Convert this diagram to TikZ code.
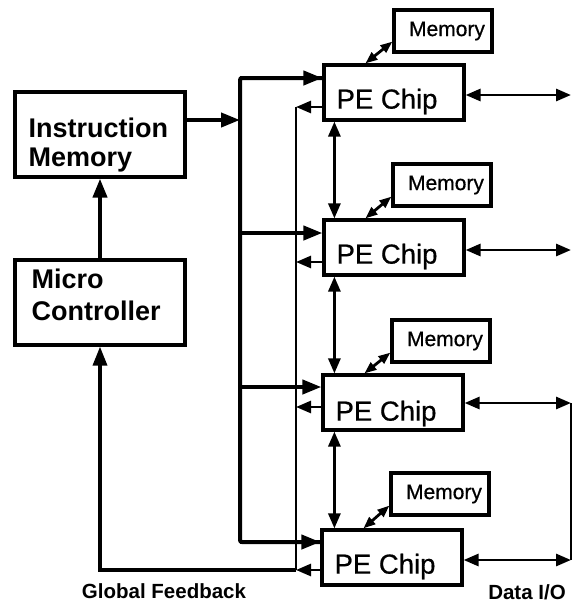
\documentclass[tikz,border=0pt]{standalone}
\usepackage{fontspec}
\setmainfont{Liberation Sans}
\newfontfamily\mediumsans[FakeBold=0.6]{Liberation Sans}
\usetikzlibrary{arrows.meta,calc}

\begin{document}
\begin{tikzpicture}[x=1pt,y=-1pt,
  box/.style={draw, line width=3.2pt, inner sep=0pt},
  ctrlbox/.style={box, minimum width=170pt, minimum height=85pt},
  pebox/.style={box, minimum width=140pt, minimum height=55pt},
  membox/.style={box, minimum width=98pt, minimum height=42pt,
    font=\mediumsans\fontsize{21}{23}\selectfont},
  ctrltext/.style={font=\fontsize{27}{30}\selectfont\bfseries, inner sep=0pt, anchor=base west},
  petext/.style={font=\mediumsans\fontsize{27.5}{30}\selectfont, inner sep=0pt, anchor=base west},
  caption/.style={font=\fontsize{20.5}{22}\selectfont\bfseries, inner sep=0pt, anchor=base},
  bigtip/.tip={Triangle[length=19pt,width=14pt]},
  smalltip/.tip={Triangle[length=15pt,width=12pt]},
  memtip/.tip={Triangle[length=12pt,width=9pt]},
  buswire/.style={line width=4pt},
  bigarrow/.style={line width=4pt, -bigtip},
  fbarrow/.style={line width=2.6pt, -smalltip},
  fbwire/.style={line width=2.6pt},
  linkarrow/.style={line width=2.9pt, smalltip-smalltip},
  memarrow/.style={line width=2.8pt, memtip-memtip},
]
\useasboundingbox (0,0) rectangle (573,603);

% control side
\node[ctrlbox] (IM) at (100,134.5) {};
\node[ctrlbox] (MC) at (100,302.5) {};
\node[ctrltext] (IMa) at ($(IM.north west)+(15,47)$) {Instruction};
\node[ctrltext] (IMb) at ($(IM.north west)+(15,76)$) {Memory};
\node[ctrltext] (MCa) at ($(MC.north west)+(18,30)$) {Micro};
\node[ctrltext] (MCb) at ($(MC.north west)+(18,62)$) {Controller};

% processing elements and their local memories
\node[pebox] (PE1) at (394,92.5) {};
\node[pebox] (PE2) at (394,247.5) {};
\node[pebox] (PE3) at (393,402.5) {};
\node[pebox] (PE4) at (392,557.5) {};
\node[petext] (PE1t) at ($(PE1.south west)+(14,-13)$) {PE Chip};
\node[petext] (PE2t) at ($(PE2.south west)+(14,-13)$) {PE Chip};
\node[petext] (PE3t) at ($(PE3.south west)+(14,-11)$) {PE Chip};
\node[petext] (PE4t) at ($(PE4.south west)+(14,-13)$) {PE Chip};

\node[membox] (M1) at (443,31) {\hspace*{8pt}Memory};
\node[membox] (M2) at (442,185) {\hspace*{8pt}Memory};
\node[membox] (M3) at (441,341) {\hspace*{8pt}Memory};
\node[membox] (M4) at (440,494) {\hspace*{8pt}Memory};

% instruction bus taps
\coordinate (b0) at (240,120);
\coordinate (b1) at (240,78);
\coordinate (b2) at (240,233);
\coordinate (b3) at (240,387);
\coordinate (b4) at (240,542);

% feedback bus taps
\coordinate (f1) at (296,107);
\coordinate (f2) at (296,262);
\coordinate (f3) at (296,407);
\coordinate (f4) at (296,570);

% data I/O rail
\coordinate (d1) at (571,95);
\coordinate (d2) at (571,250);
\coordinate (d3) at (571,403);
\coordinate (d4) at (571,560);

% controller to instruction memory, instruction memory to bus
\draw[bigarrow] (MC.north) -- (IM.south);
\draw[bigarrow] (IM.east |- b0) -- (b0);

% instruction broadcast bus
\draw[buswire, rounded corners=2pt] (b1 -| PE1.west) -- (b1) -- (b4) -- (b4 -| PE4.west);
\draw[bigarrow] (b1) -- (b1 -| PE1.west);
\draw[bigarrow] (b2) -- (b2 -| PE2.west);
\draw[bigarrow] (b3) -- (b3 -| PE3.west);
\draw[bigarrow] (b4) -- (b4 -| PE4.west);

% global feedback path
\draw[fbarrow] (f1 -| PE1.west) -- (f1);
\draw[fbarrow] (f2 -| PE2.west) -- (f2);
\draw[fbarrow] (f3 -| PE3.west) -- (f3);
\draw[fbarrow] (f4 -| PE4.west) -- (f4);
\draw[fbwire] (f1) -- (f4);
\draw[line width=3.4pt, -bigtip] (f4) -- (MC.south |- f4) -- (MC.south);

% nearest-neighbour links
\draw[linkarrow] ($(PE1.south west)+(12,0)$) -- ($(PE2.north west)+(12,0)$);
\draw[linkarrow] ($(PE2.south west)+(12,0)$) -- ($(PE3.north west)+(13,0)$);
\draw[linkarrow] ($(PE3.south west)+(13,0)$) -- ($(PE4.north west)+(14,0)$);

% local memory ports
\draw[memarrow] ($(PE1.north west)+(43,0)$) -- ($(M1.south west)+(0,-12)$);
\draw[memarrow] ($(PE2.north west)+(43,0)$) -- ($(M2.south west)+(0,-11)$);
\draw[memarrow] ($(PE3.north west)+(43,0)$) -- ($(M3.south west)+(0,-11)$);
\draw[memarrow] ($(PE4.north west)+(43,0)$) -- ($(M4.south west)+(0,-11)$);

% data I/O
\draw[linkarrow] (PE1.east |- d1) -- (d1);
\draw[linkarrow] (PE2.east |- d2) -- (d2);
\draw[linkarrow] (PE3.east |- d3) -- (d3);
\draw[linkarrow] (PE4.east |- d4) -- (d4);
\draw[line width=2.4pt] (d3) -- (d4);

% captions
\node[caption] (gflabel) at (164,598) {Global Feedback};
\node[caption] (iolabel) at (527,599) {Data I/O};
\end{tikzpicture}
\end{document}
